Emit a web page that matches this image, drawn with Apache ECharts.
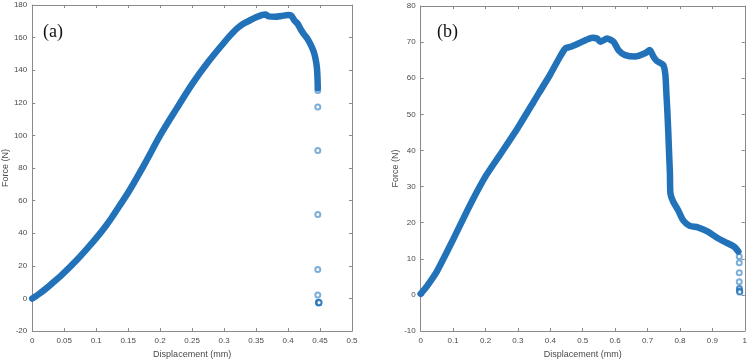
<!DOCTYPE html>
<html>
<head>
<meta charset="utf-8">
<script src="https://cdn.jsdelivr.net/npm/echarts@6/dist/echarts.min.js"></script>
<style>
html,body{margin:0;padding:0;background:#fff;}
#c{width:750px;height:364px;}
</style>
</head>
<body>
<div id="c"></div>
<script>
// Panel (a)
var aX = [0, 0.005, 0.01, 0.02, 0.03, 0.047, 0.07, 0.0885, 0.1, 0.115, 0.125, 0.135, 0.15, 0.175, 0.2, 0.225, 0.25, 0.275, 0.3, 0.31, 0.32, 0.33, 0.34, 0.35, 0.36, 0.365, 0.37, 0.38, 0.39, 0.4, 0.405, 0.41, 0.415, 0.42, 0.425, 0.43, 0.435, 0.44, 0.443, 0.445, 0.446, 0.4465];
var aY = [0, 1.2, 2.6, 5.6, 8.9, 14.8, 23.8, 31.8, 37, 44.5, 50, 56, 65, 82, 100, 116, 131.5, 145, 157, 161.5, 165.5, 168.5, 170.5, 172.5, 174, 174.2, 173, 172.8, 173.3, 173.8, 173.5, 170.5, 168.5, 165, 162, 159.5, 156, 151.5, 147, 142, 136, 129];
var aDropX = [0.4465, 0.4465, 0.4465, 0.4465, 0.4465, 0.4465];
var aDropY = [127.5, 117.5, 90.8, 51.5, 17.8, 2.2];
var aClusterX = [0.4475, 0.448, 0.4485];
var aClusterY = [-2.3, -2.7, -2.5];
// Panel (b)
var bX = [0, 0.02, 0.05, 0.1, 0.15, 0.2, 0.25, 0.3, 0.35, 0.4, 0.43, 0.447, 0.4625, 0.488, 0.51, 0.529, 0.544, 0.554, 0.575, 0.595, 0.61, 0.631, 0.662, 0.692, 0.707, 0.718, 0.728, 0.748, 0.755, 0.758, 0.761, 0.764, 0.767, 0.769, 0.7706, 0.779, 0.794, 0.8095, 0.83, 0.855, 0.886, 0.917, 0.947, 0.968, 0.98];
var bY = [0.3, 2.5, 6.5, 15.3, 24.5, 32.8, 39.5, 46.3, 53.7, 61.1, 66, 68.3, 68.7, 69.7, 70.6, 71.2, 71.0, 70.1, 71.0, 70.1, 67.8, 66.4, 66.0, 66.9, 67.8, 66.0, 64.8, 63.7, 61, 56, 51, 45, 38, 33.7, 28.1, 25.8, 23.5, 20.7, 19.1, 18.7, 17.5, 15.7, 14.3, 13.3, 12.0];
var bDropX = [0.983, 0.983, 0.983, 0.983];
var bDropY = [10.6, 8.9, 6.1, 3.65];
var bClusterX = [0.9835, 0.984, 0.9845];
var bClusterY = [1.8, 1.1, 0.8];

var panelLabels = ['(a)', '(b)'];
var xName = 'Displacement (mm)';
var yName = 'Force (N)';

function zip(xs, ys){ return xs.map(function(x,i){ return [x, ys[i]]; }); }

var axisColor = '#8a8a8a';
var textColor = '#4a4a4a';
var font = 'Liberation Sans';
var bandColor = '#2172b8';
var ringColor = '#5b9bd1';

function xAx(grid, min, max, interval, pos){
  var primary = pos === 'bottom';
  return {
    type: 'value', gridIndex: grid, position: pos, min: min, max: max, interval: interval,
    name: primary ? xName : '', nameLocation: 'middle', nameGap: 18,
    nameTextStyle: {color: textColor, fontFamily: font, fontSize: 9},
    axisLine: {show: true, onZero: false, lineStyle: {color: axisColor, width: 1}},
    axisTick: {show: true, inside: true, length: 3, lineStyle: {color: axisColor}},
    axisLabel: {show: primary, color: textColor, fontFamily: font, fontSize: 8, margin: 6},
    splitLine: {show: false}
  };
}
function yAx(grid, min, max, interval, pos, gap){
  var primary = pos === 'left';
  return {
    type: 'value', gridIndex: grid, position: pos, min: min, max: max, interval: interval,
    name: primary ? yName : '', nameLocation: 'middle', nameGap: gap, nameRotate: 90,
    nameTextStyle: {color: textColor, fontFamily: font, fontSize: 9},
    axisLine: {show: true, onZero: false, lineStyle: {color: axisColor, width: 1}},
    axisTick: {show: true, inside: true, length: 3, lineStyle: {color: axisColor}},
    axisLabel: {show: primary, color: textColor, fontFamily: font, fontSize: 8, margin: 5},
    splitLine: {show: false}
  };
}

var chart = echarts.init(document.getElementById('c'), null, {renderer: 'canvas'});
chart.setOption({
  animation: false,
  backgroundColor: '#ffffff',
  title: [
    {text: panelLabels[0], left: 38, top: 18, textStyle: {fontFamily: 'Liberation Serif', fontWeight: 'normal', fontSize: 18, color: '#111'}},
    {text: panelLabels[1], left: 432, top: 18, textStyle: {fontFamily: 'Liberation Serif', fontWeight: 'normal', fontSize: 18, color: '#111'}}
  ],
  grid: [
    {left: 27.5, top: 5, width: 324.5, height: 327},
    {left: 420.7, top: 6, width: 326.6, height: 325}
  ],
  xAxis: [
    xAx(0, 0, 0.5, 0.05, 'bottom'),
    xAx(0, 0, 0.5, 0.05, 'top'),
    xAx(1, 0, 1, 0.1, 'bottom'),
    xAx(1, 0, 1, 0.1, 'top')
  ],
  yAxis: [
    yAx(0, -20, 180, 20, 'left', 15),
    yAx(0, -20, 180, 20, 'right', 0),
    yAx(1, -10, 80, 10, 'left', 12),
    yAx(1, -10, 80, 10, 'right', 0)
  ],
  series: [
    {type: 'line', xAxisIndex: 0, yAxisIndex: 0, data: zip(aX, aY), showSymbol: false, smooth: 0.3,
     lineStyle: {color: bandColor, width: 6.5, cap: 'round', join: 'round'}},
    {type: 'scatter', xAxisIndex: 0, yAxisIndex: 0, data: zip(aDropX, aDropY), symbol: 'emptyCircle', symbolSize: 5,
     itemStyle: {color: ringColor, borderColor: ringColor, borderWidth: 1}},
    {type: 'scatter', xAxisIndex: 0, yAxisIndex: 0, data: zip(aClusterX, aClusterY), symbol: 'emptyCircle', symbolSize: 5,
     itemStyle: {color: bandColor, borderColor: bandColor, borderWidth: 1.6}},
    {type: 'line', xAxisIndex: 2, yAxisIndex: 2, data: zip(bX, bY), showSymbol: false, smooth: 0.2,
     lineStyle: {color: bandColor, width: 6.5, cap: 'round', join: 'round'}},
    {type: 'scatter', xAxisIndex: 2, yAxisIndex: 2, data: zip(bDropX, bDropY), symbol: 'emptyCircle', symbolSize: 5,
     itemStyle: {color: ringColor, borderColor: ringColor, borderWidth: 1}},
    {type: 'scatter', xAxisIndex: 2, yAxisIndex: 2, data: zip(bClusterX, bClusterY), symbol: 'emptyCircle', symbolSize: 5,
     itemStyle: {color: bandColor, borderColor: bandColor, borderWidth: 1.6}}
  ]
});
</script>
</body>
</html>
